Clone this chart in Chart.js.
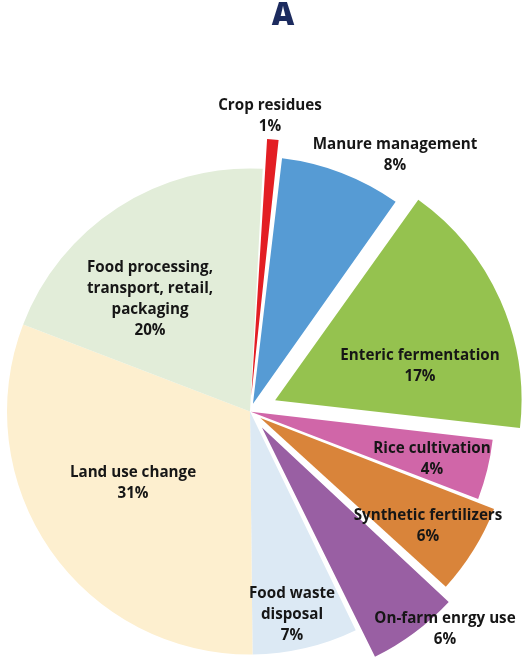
<!DOCTYPE html>
<html>
<head>
<meta charset="utf-8">
<script src="https://cdn.jsdelivr.net/npm/chart.js@4.4.1/dist/chart.umd.min.js"></script>
<style>
  html, body { margin: 0; padding: 0; background: #ffffff; }
  #wrap { width: 523px; height: 659px; position: relative; }
</style>
</head>
<body>
<div id="wrap"><canvas id="pie" width="523" height="659"></canvas></div>
<script>
// Sources of food-system greenhouse gas emissions (share of total, %)
const categories = [
  'Crop residues',
  'Manure management',
  'Enteric fermentation',
  'Rice cultivation',
  'Synthetic fertilizers',
  'On-farm enrgy use',
  'Food waste disposal',
  'Land use change',
  'Food processing, transport, retail, packaging'
];
const shares = [1, 8, 17, 4, 6, 6, 7, 31, 20];
const sliceColors = [
  '#e31e24', '#569bd4', '#95c24f', '#d066a8', '#d9843a',
  '#995fa3', '#dce9f4', '#fdefcf', '#e2edd9'
];
// how far each slice is pulled out of the pie
const pullOut = [62, 33, 110, 3, 49, 80, 0, 0, 0];

// label lines for each slice and where they sit relative to the pie centre
const labelLines = [
  ['Crop residues'],
  ['Manure management'],
  ['Enteric fermentation'],
  ['Rice cultivation'],
  ['Synthetic fertilizers'],
  ['On-farm enrgy use'],
  ['Food waste', 'disposal'],
  ['Land use change'],
  ['Food processing,', 'transport, retail,', 'packaging']
];
const labelAt = [
  [20, -306], [145, -267], [170, -56], [182, 37], [178, 104],
  [195, 207], [42, 182], [-117, 61], [-100, -144]
];

const labelPlugin = {
  id: 'sliceLabels',
  afterDatasetsDraw(chart) {
    const ctx = chart.ctx;
    const area = chart.chartArea;
    const cx = (area.left + area.right) / 2;
    const cy = (area.top + area.bottom) / 2;
    ctx.save();
    ctx.fillStyle = '#161616';
    ctx.textAlign = 'center';
    ctx.textBaseline = 'middle';
    ctx.font = 'bold 15.2px "Open Sans"';
    const lh = 21;
    categories.forEach((c, i) => {
      const lines = labelLines[i].concat([shares[i] + '%']);
      const x = cx + labelAt[i][0];
      const y0 = cy + labelAt[i][1];
      lines.forEach((t, k) => ctx.fillText(t, x, y0 + k * lh));
    });
    // panel letter
    ctx.fillStyle = '#1c2b5e';
    ctx.font = '800 31px "Open Sans"';
    ctx.textBaseline = 'alphabetic';
    ctx.fillText('A', 283, 25);
    ctx.restore();
  }
};

new Chart(document.getElementById('pie'), {
  type: 'pie',
  data: {
    labels: categories,
    datasets: [{
      data: shares,
      backgroundColor: sliceColors,
      borderWidth: 0,
      offset: pullOut,
      hoverOffset: 0,
      clip: false
    }]
  },
  options: {
    responsive: false,
    animation: false,
    events: [],
    rotation: 3,
    radius: 243,
    layout: { padding: { left: 0, right: 23, top: 164, bottom: 0 } },
    plugins: {
      legend: { display: false },
      tooltip: { enabled: false },
      title: { display: false }
    }
  },
  plugins: [labelPlugin]
});
</script>
</body>
</html>
